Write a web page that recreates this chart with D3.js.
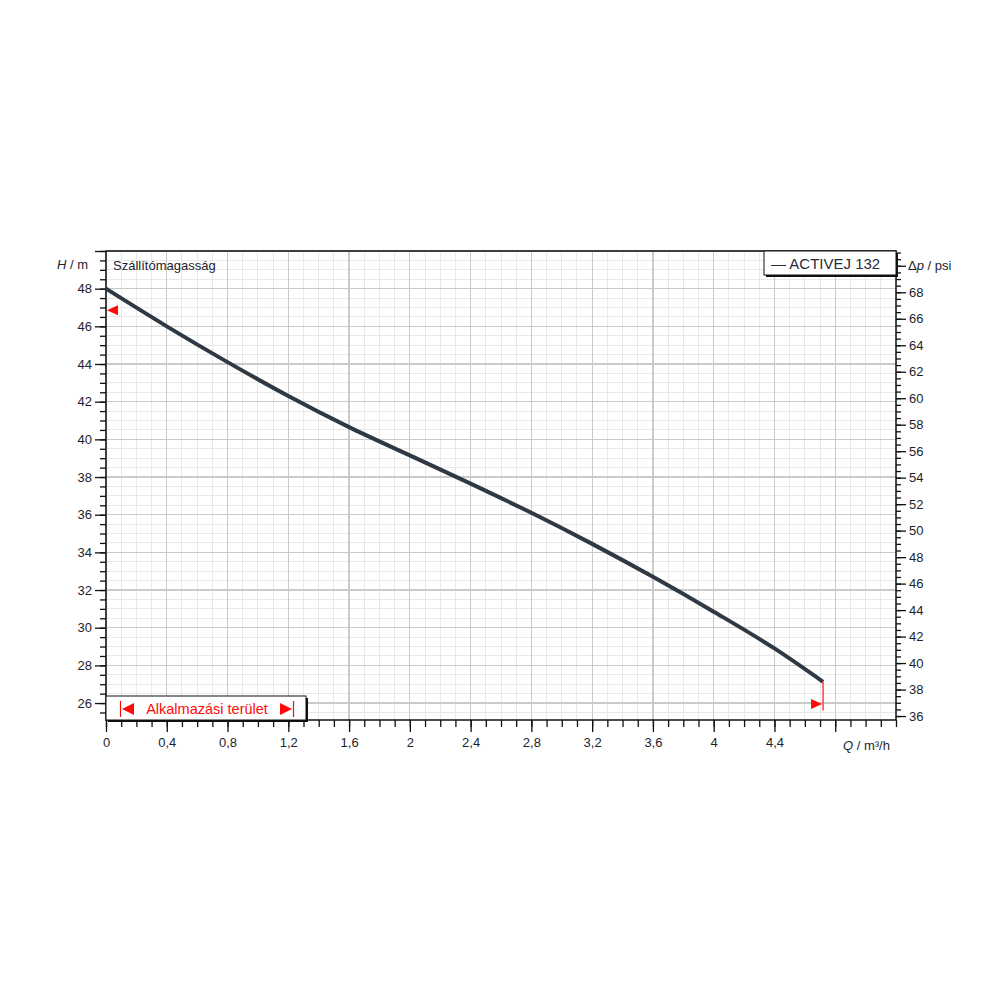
<!DOCTYPE html>
<html>
<head>
<meta charset="utf-8">
<script src="https://cdn.jsdelivr.net/npm/d3@7"></script>
<style>
  html, body { margin: 0; padding: 0; background: #fff; }
  svg { display: block; }
  text { font-family: "Liberation Sans", Arial, sans-serif; fill: #1e1e2e; }
</style>
</head>
<body>
<svg id="chart" width="1000" height="1000"></svg>
<script>
// ---- data ----
const flowQ = [0, 0.4, 0.8, 1.2, 1.6, 2.0, 2.4, 2.8, 3.2, 3.6, 4.0, 4.4, 4.72];
const headH = [48.0, 46.0, 44.1, 42.3, 40.65, 39.15, 37.65, 36.1, 34.45, 32.7, 30.85, 28.9, 27.13];
const seriesName = "ACTIVEJ 132";
const xMajorTicks = [0, 0.4, 0.8, 1.2, 1.6, 2, 2.4, 2.8, 3.2, 3.6, 4, 4.4, 4.8];
const xTickLabels = ["0", "0,4", "0,8", "1,2", "1,6", "2", "2,4", "2,8", "3,2", "3,6", "4", "4,4", ""];
const yMajorTicks = [26, 28, 30, 32, 34, 36, 38, 40, 42, 44, 46, 48, 50];
const yTickLabels = ["26", "28", "30", "32", "34", "36", "38", "40", "42", "44", "46", "48", ""];
const psiMajorTicks = [36, 38, 40, 42, 44, 46, 48, 50, 52, 54, 56, 58, 60, 62, 64, 66, 68, 70];
const psiTickLabels = ["36", "38", "40", "42", "44", "46", "48", "50", "52", "54", "56", "58", "60", "62", "64", "66", "68", ""];
const rangeStartMarkerH = 46.85;   // red start-of-range marker on curve axis
const rangeEndQ = 4.72;            // end of application range
const rangeEndMarkerH = 25.95;
const rangeEndLineBottomH = 25.6;
const mToPsi = 1.42233;

// ---- layout ----
const L = 106, R = 896, T = 251, B = 720;
const svg = d3.select("#chart");

const x = d3.scaleLinear().domain([0, 5.2]).range([L, R]);
const y = d3.scaleLinear().domain([25.1, 50]).range([B, T]);
const yPsi = d3.scaleLinear().domain([25.1 * mToPsi, 50 * mToPsi]).range([B, T]);

const xMinor = d3.range(0, 53).map(i => i / 10);
const yMinor = d3.range(0, 50).map(i => 25.5 + i * 0.5).filter(v => v <= 50);
const psiMinor = d3.range(0, 80).map(i => 36 + i * 0.5).filter(v => v <= 50 * mToPsi);

// ---- grid ----
const grid = svg.append("g");
grid.selectAll("line.vmin").data(xMinor).join("line")
  .attr("x1", d => x(d)).attr("x2", d => x(d)).attr("y1", T).attr("y2", B)
  .attr("stroke", "#e9e9e9").attr("stroke-width", 1).attr("shape-rendering", "crispEdges");
grid.selectAll("line.hmin").data(yMinor).join("line")
  .attr("x1", L).attr("x2", R).attr("y1", d => y(d)).attr("y2", d => y(d))
  .attr("stroke", "#e9e9e9").attr("stroke-width", 1).attr("shape-rendering", "crispEdges");
grid.selectAll("line.vmaj").data(xMajorTicks).join("line")
  .attr("x1", d => x(d)).attr("x2", d => x(d)).attr("y1", T).attr("y2", B)
  .attr("stroke", "#cacaca").attr("stroke-width", 1.3).attr("shape-rendering", "crispEdges");
grid.selectAll("line.hmaj").data(yMajorTicks).join("line")
  .attr("x1", L).attr("x2", R).attr("y1", d => y(d)).attr("y2", d => y(d))
  .attr("stroke", "#cacaca").attr("stroke-width", 1.3).attr("shape-rendering", "crispEdges");

// ---- axes ----
function styleAxis(g) {
  g.select(".domain").remove();
  g.selectAll(".tick line").attr("stroke", "#111").attr("stroke-width", 1.3);
  g.selectAll("text").style("font-family", '"Liberation Sans", Arial, sans-serif')
    .style("font-size", "13px").attr("fill", "#1e1e2e");
}
// left
svg.append("g").attr("transform", `translate(${L},0)`)
  .call(d3.axisLeft(y).tickValues(yMinor).tickSize(6).tickFormat(""))
  .call(styleAxis);
svg.append("g").attr("transform", `translate(${L},0)`)
  .call(d3.axisLeft(y).tickValues(yMajorTicks).tickSize(11).tickPadding(3)
    .tickFormat((d, i) => yTickLabels[i]))
  .call(styleAxis);
// bottom
svg.append("g").attr("transform", `translate(0,${B})`)
  .call(d3.axisBottom(x).tickValues(xMinor).tickSize(7).tickFormat(""))
  .call(styleAxis);
svg.append("g").attr("transform", `translate(0,${B})`)
  .call(d3.axisBottom(x).tickValues(xMajorTicks).tickSize(12).tickPadding(6)
    .tickFormat((d, i) => xTickLabels[i]))
  .call(styleAxis);
// right (psi)
svg.append("g").attr("transform", `translate(${R},0)`)
  .call(d3.axisRight(yPsi).tickValues(psiMinor).tickSize(5).tickFormat(""))
  .call(styleAxis);
svg.append("g").attr("transform", `translate(${R},0)`)
  .call(d3.axisRight(yPsi).tickValues(psiMajorTicks).tickSize(10).tickPadding(3)
    .tickFormat((d, i) => psiTickLabels[i]))
  .call(styleAxis);

// frame
svg.append("rect").attr("x", L).attr("y", T).attr("width", R - L).attr("height", B - T)
  .attr("fill", "none").attr("stroke", "#111").attr("stroke-width", 1.5);

// ---- curve ----
const pts = flowQ.map((q, i) => [q, headH[i]]);
const line = d3.line().x(d => x(d[0])).y(d => y(d[1])).curve(d3.curveMonotoneX);
svg.append("path").datum(pts).attr("d", line)
  .attr("fill", "none").attr("stroke", "#2e3944").attr("stroke-width", 4)
  .attr("stroke-linecap", "butt");

// ---- range markers ----
const red = "#ff0a0a";
// start marker (left pointing triangle)
{
  const cx = x(0) + 1, cy = y(rangeStartMarkerH);
  svg.append("path").attr("d", `M${cx},${cy} L${cx + 11},${cy - 5} L${cx + 11},${cy + 5} Z`).attr("fill", red);
}
// end marker
{
  const ex = x(rangeEndQ);
  const lastH = headH[headH.length - 1];
  svg.append("line").attr("x1", ex).attr("x2", ex).attr("y1", y(lastH)).attr("y2", y(rangeEndLineBottomH))
    .attr("stroke", "#ff4a4a").attr("stroke-width", 1.6);
  const cy = y(rangeEndMarkerH);
  svg.append("path").attr("d", `M${ex - 1},${cy} L${ex - 12},${cy - 5} L${ex - 12},${cy + 5} Z`).attr("fill", red);
}

// ---- application range box ----
{
  const bx = L, by = 696, bw = 200, bh = 24;
  svg.append("rect").attr("x", bx + 2).attr("y", by + 2).attr("width", bw).attr("height", bh).attr("fill", "#111");
  svg.append("rect").attr("x", bx).attr("y", by).attr("width", bw).attr("height", bh)
    .attr("fill", "#fff").attr("stroke", "#111").attr("stroke-width", 1);
  const cy = by + bh / 2 + 1;
  // left bar + triangle
  svg.append("line").attr("x1", 120.5).attr("x2", 120.5).attr("y1", cy - 8).attr("y2", cy + 8).attr("stroke", red).attr("stroke-width", 1.2);
  svg.append("path").attr("d", `M122,${cy} L134,${cy - 6} L134,${cy + 6} Z`).attr("fill", red);
  svg.append("text").attr("x", 207).attr("y", cy + 5).attr("text-anchor", "middle")
    .style("font-size", "14.5px").style("fill", red).text("Alkalmazási terület");
  svg.append("path").attr("d", `M292,${cy} L280,${cy - 6} L280,${cy + 6} Z`).attr("fill", red);
  svg.append("line").attr("x1", 293.5).attr("x2", 293.5).attr("y1", cy - 8).attr("y2", cy + 8).attr("stroke", red).attr("stroke-width", 1.2);
}

// ---- legend ----
{
  const lx = 764, ly = T, lw = R - 764, lh = 24;
  svg.append("rect").attr("x", lx + 2).attr("y", ly + 2).attr("width", lw).attr("height", lh).attr("fill", "#111");
  svg.append("rect").attr("x", lx).attr("y", ly).attr("width", lw).attr("height", lh)
    .attr("fill", "#fff").attr("stroke", "#111").attr("stroke-width", 1);
  svg.append("text").attr("x", 771).attr("y", ly + 18).style("font-size", "15px")
    .style("fill", "#2a2a40").text("— " + seriesName);
}

// ---- titles ----
svg.append("text").attr("x", 113).attr("y", 270).style("font-size", "13px").text("Szállítómagasság");
{
  const t = svg.append("text").attr("x", 57).attr("y", 269).style("font-size", "13px");
  t.append("tspan").style("font-style", "italic").text("H");
  t.append("tspan").text(" / m");
}
{
  const t = svg.append("text").attr("x", 908).attr("y", 270).style("font-size", "13px");
  t.append("tspan").text("Δ");
  t.append("tspan").style("font-style", "italic").text("p");
  t.append("tspan").text(" / psi");
}
{
  const t = svg.append("text").attr("x", 843).attr("y", 750).style("font-size", "13px");
  t.append("tspan").style("font-style", "italic").text("Q");
  t.append("tspan").text(" / m³/h");
}
</script>
</body>
</html>
